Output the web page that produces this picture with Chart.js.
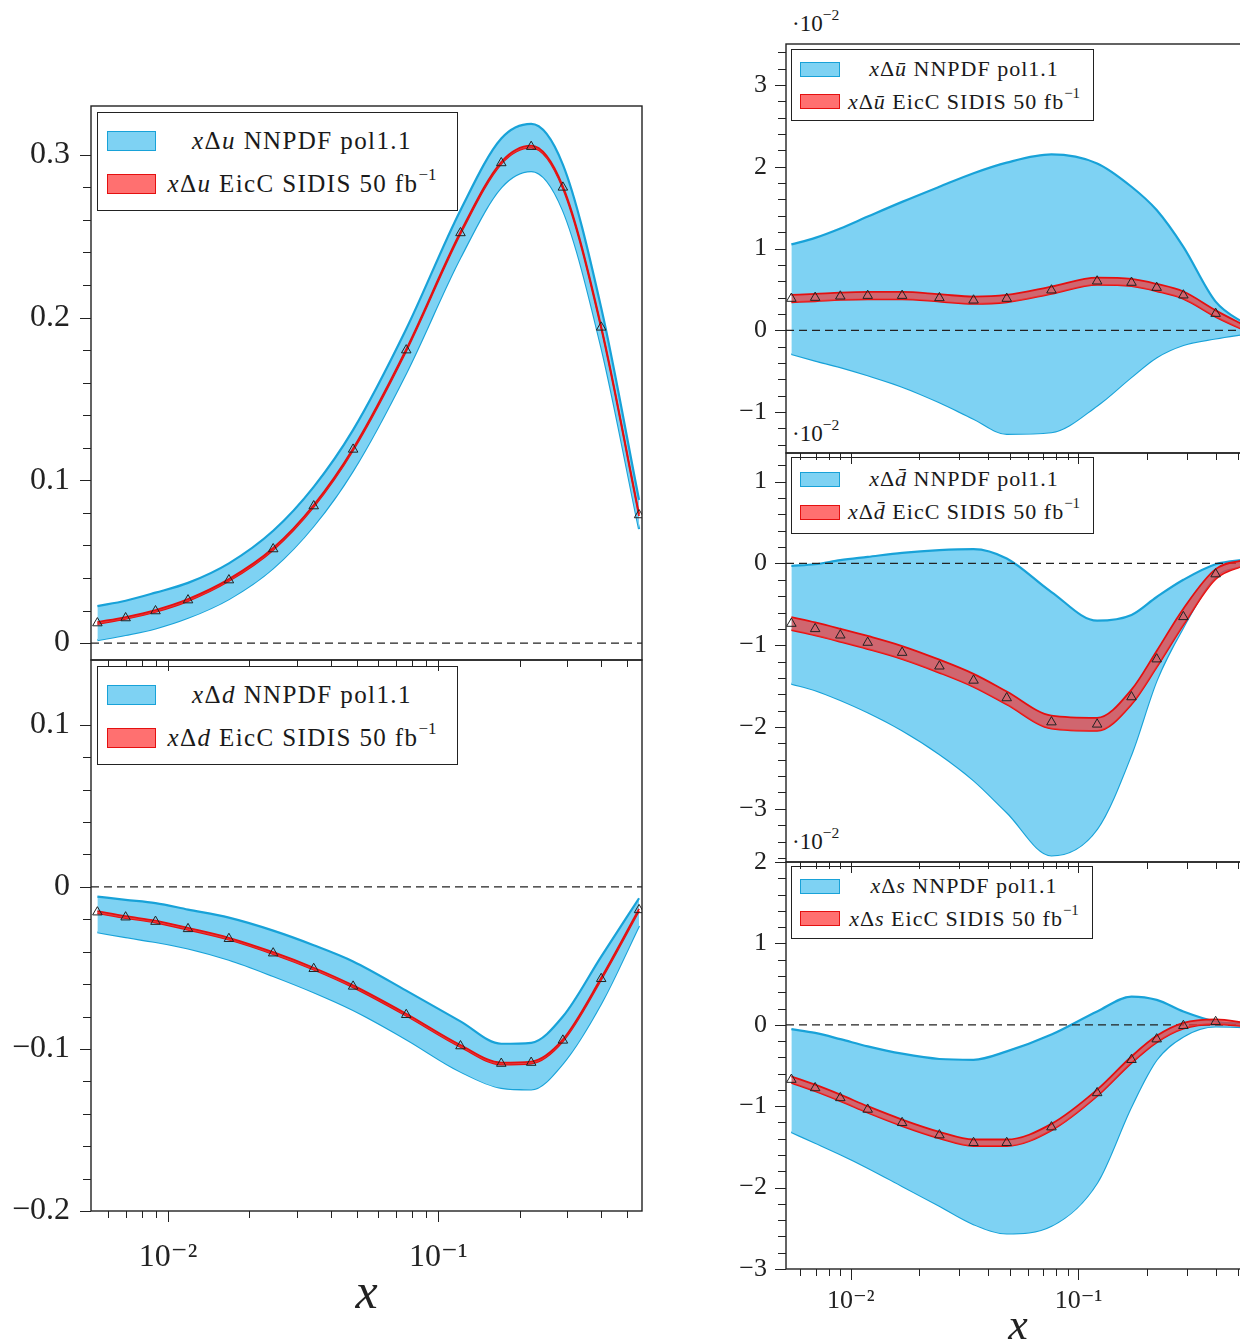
<!DOCTYPE html>
<html>
<head>
<meta charset="utf-8">
<script src="https://cdn.jsdelivr.net/npm/chart.js@4.4.1/dist/chart.umd.min.js"></script>
<style>
html, body { margin: 0; padding: 0; background: #fff; }
body { position: relative; width: 1240px; height: 1344px; overflow: hidden;
       font-family: "Liberation Serif", "DejaVu Serif", serif; color: #1a1a1a; }
canvas { position: absolute; }
.leg { position: absolute; border: 1px solid #222; background: #fff; box-sizing: border-box; }
.sw { position: absolute; box-sizing: border-box; }
.sw.b { background: rgb(126,210,243); border: 1px solid rgb(24,162,216); }
.sw.r { background: rgb(255,112,112); border: 1px solid rgb(228,16,16); }
.lt { position: absolute; white-space: nowrap; text-align: center; }
.big .lt { font-size: 25px; letter-spacing: 1.4px; }
.small .lt { font-size: 22px; letter-spacing: 1px; }
.mul { position: absolute; font-size: 23px; line-height: 23px; white-space: nowrap; }
sup { font-size: 0.68em; line-height: 0; position: relative; top: -0.15em; vertical-align: super; letter-spacing: 0; }
</style>
</head>
<body>

<!-- legends -->
<div class="leg big" style="left:97px;top:112px;width:361px;height:99px">
  <div class="sw b" style="left:9px;top:18px;width:49px;height:20px"></div>
  <div class="lt" style="left:58px;width:292px;top:12px;line-height:32px"><i>x</i>Δ<i>u</i> NNPDF pol1.1</div>
  <div class="sw r" style="left:9px;top:61px;width:49px;height:20px"></div>
  <div class="lt" style="left:58px;width:292px;top:55px;line-height:32px"><i>x</i>Δ<i>u</i> EicC SIDIS 50 fb<sup>−1</sup></div>
</div>
<div class="leg big" style="left:97px;top:666px;width:361px;height:99px">
  <div class="sw b" style="left:9px;top:18px;width:49px;height:20px"></div>
  <div class="lt" style="left:58px;width:292px;top:12px;line-height:32px"><i>x</i>Δ<i>d</i> NNPDF pol1.1</div>
  <div class="sw r" style="left:9px;top:61px;width:49px;height:20px"></div>
  <div class="lt" style="left:58px;width:292px;top:55px;line-height:32px"><i>x</i>Δ<i>d</i> EicC SIDIS 50 fb<sup>−1</sup></div>
</div>
<div class="leg small" style="left:791px;top:49px;width:303px;height:72px">
  <div class="sw b" style="left:8px;top:12px;width:40px;height:15px"></div>
  <div class="lt" style="left:50px;width:244px;top:5px;line-height:28px"><i>x</i>Δ<i>ū</i> NNPDF pol1.1</div>
  <div class="sw r" style="left:8px;top:44px;width:40px;height:15px"></div>
  <div class="lt" style="left:50px;width:244px;top:38px;line-height:28px"><i>x</i>Δ<i>ū</i> EicC SIDIS 50 fb<sup>−1</sup></div>
</div>
<div class="leg small" style="left:791px;top:457px;width:303px;height:77px">
  <div class="sw b" style="left:8px;top:14px;width:40px;height:15px"></div>
  <div class="lt" style="left:50px;width:244px;top:7px;line-height:28px"><i>x</i>Δ<i>d̄</i> NNPDF pol1.1</div>
  <div class="sw r" style="left:8px;top:47px;width:40px;height:15px"></div>
  <div class="lt" style="left:50px;width:244px;top:40px;line-height:28px"><i>x</i>Δ<i>d̄</i> EicC SIDIS 50 fb<sup>−1</sup></div>
</div>
<div class="leg small" style="left:791px;top:866px;width:302px;height:73px">
  <div class="sw b" style="left:8px;top:12px;width:40px;height:15px"></div>
  <div class="lt" style="left:50px;width:244px;top:5px;line-height:28px"><i>x</i>Δ<i>s</i> NNPDF pol1.1</div>
  <div class="sw r" style="left:8px;top:44px;width:40px;height:15px"></div>
  <div class="lt" style="left:50px;width:244px;top:38px;line-height:28px"><i>x</i>Δ<i>s</i> EicC SIDIS 50 fb<sup>−1</sup></div>
</div>

<!-- scale factors of the right panels -->
<div class="mul" style="left:792px;top:12px">·10<sup>−2</sup></div>
<div class="mul" style="left:792px;top:422px">·10<sup>−2</sup></div>
<div class="mul" style="left:792px;top:830px">·10<sup>−2</sup></div>

<script>
// x positions of the EicC pseudo-data points (shared by all panels)
const xPts = [0.00548, 0.00697, 0.00899, 0.01186, 0.0168, 0.0245, 0.0346, 0.0484,
              0.0761, 0.1208, 0.171, 0.2206, 0.289, 0.4005, 0.553];
const X_MIN = 0.00519, X_MAX = 0.567;
const xMajor = [0.01, 0.1];
const xMinor = [0.006, 0.007, 0.008, 0.009, 0.02, 0.03, 0.04, 0.05, 0.06, 0.07, 0.08, 0.09, 0.2, 0.3, 0.4, 0.5];
const xTickLabels = ['10⁻²', '10⁻¹'];

// x Delta u
const uC   = [0.0123, 0.0154, 0.0197, 0.0264, 0.0387, 0.0578, 0.0842, 0.119, 0.180, 0.252, 0.295, 0.305, 0.280, 0.194, 0.0787];
const uErr = [0.0006, 0.0006, 0.0006, 0.0006, 0.0006, 0.0006, 0.0006, 0.0006, 0.0006, 0.0006, 0.0006, 0.0006, 0.0006, 0.0006, 0.0006];
const uHi  = [0.0227, 0.026, 0.031, 0.037, 0.049, 0.069, 0.096, 0.131, 0.193, 0.266, 0.310, 0.319, 0.294, 0.206, 0.088];
const uLo  = [0.0018, 0.005, 0.009, 0.0155, 0.027, 0.046, 0.072, 0.106, 0.166, 0.237, 0.280, 0.290, 0.266, 0.182, 0.070];
const uTicks = [0, 0.1, 0.2, 0.3];
const uTickLabels = ['0', '0.1', '0.2', '0.3'];

// x Delta d
const dC   = [-0.0156, -0.0187, -0.0214, -0.0259, -0.0320, -0.0409, -0.0505, -0.0614, -0.0789, -0.0982, -0.109, -0.1084, -0.0947, -0.0567, -0.0142];
const dErr = [0.0006, 0.0006, 0.0006, 0.0006, 0.0006, 0.0006, 0.0006, 0.0006, 0.0006, 0.0006, 0.0006, 0.0006, 0.0006, 0.0006, 0.0006];
const dHi  = [-0.006, -0.008, -0.010, -0.014, -0.019, -0.027, -0.036, -0.046, -0.064, -0.083, -0.0968, -0.0962, -0.080, -0.043, -0.007];
const dLo  = [-0.028, -0.031, -0.034, -0.038, -0.045, -0.055, -0.065, -0.076, -0.094, -0.114, -0.124, -0.125, -0.109, -0.072, -0.024];
const dTicks = [-0.2, -0.1, 0, 0.1];
const dTickLabels = ['−0.2', '−0.1', '0', '0.1'];

// x Delta ubar (units of 1e-2)
const ubC   = [0.388, 0.40, 0.416, 0.424, 0.424, 0.396, 0.367, 0.388, 0.49, 0.60, 0.584, 0.522, 0.429, 0.204, 0.01];
const ubErr = [0.045, 0.045, 0.045, 0.045, 0.045, 0.045, 0.045, 0.045, 0.045, 0.045, 0.045, 0.045, 0.045, 0.04, 0.03];
const ubHi  = [1.05, 1.13, 1.245, 1.39, 1.57, 1.755, 1.92, 2.05, 2.15, 2.04, 1.755, 1.47, 1.02, 0.35, 0.06];
const ubLo  = [-0.29, -0.37, -0.45, -0.55, -0.69, -0.88, -1.08, -1.265, -1.245, -0.92, -0.57, -0.33, -0.18, -0.10, -0.04];
const ubTicks = [-1, 0, 1, 2, 3];
const ubTickLabels = ['−1', '0', '1', '2', '3'];

// x Delta dbar (units of 1e-2)
const dbC   = [-0.735, -0.80, -0.878, -0.967, -1.09, -1.257, -1.43, -1.645, -1.94, -1.967, -1.633, -1.17, -0.653, -0.13, 0.02];
const dbErr = [0.08, 0.08, 0.08, 0.08, 0.08, 0.08, 0.08, 0.08, 0.08, 0.08, 0.09, 0.1, 0.1, 0.06, 0.03];
const dbHi  = [-0.03, -0.01, 0.04, 0.08, 0.13, 0.163, 0.175, 0.06, -0.35, -0.70, -0.63, -0.41, -0.20, -0.01, 0.05];
const dbLo  = [-1.47, -1.55, -1.67, -1.82, -2.04, -2.33, -2.65, -3.04, -3.57, -3.245, -2.33, -1.43, -0.78, -0.16, -0.02];
const dbTicks = [-3, -2, -1, 0, 1];
const dbTickLabels = ['−3', '−2', '−1', '0', '1'];

// x Delta s (units of 1e-2)
const sC   = [-0.673, -0.776, -0.898, -1.04, -1.204, -1.355, -1.449, -1.449, -1.257, -0.837, -0.429, -0.176, -0.012, 0.037, 0.0];
const sErr = [0.04, 0.04, 0.04, 0.04, 0.04, 0.04, 0.04, 0.04, 0.04, 0.04, 0.04, 0.04, 0.035, 0.03, 0.02];
const sHi  = [-0.053, -0.10, -0.176, -0.265, -0.355, -0.42, -0.43, -0.327, -0.12, 0.163, 0.347, 0.306, 0.163, 0.04, 0.01];
const sLo  = [-1.318, -1.449, -1.59, -1.755, -1.98, -2.224, -2.449, -2.563, -2.469, -1.939, -1.0, -0.429, -0.143, -0.02, -0.03];
const sTicks = [-3, -2, -1, 0, 1, 2];
const sTickLabels = ['−3', '−2', '−1', '0', '1', '2'];

const FONT = '"Liberation Serif", "DejaVu Serif", serif';
const BLUE_FILL = 'rgb(126,210,243)';
const BLUE_EDGE = 'rgb(24,162,216)';
const RED_FILL = 'rgba(240,60,60,0.72)';
const RED_EDGE = 'rgb(228,16,16)';
const INK = '#222';

function pts(ys) { return xPts.map((x, i) => ({ x: x, y: ys[i] })); }
function shifted(ys, es, sign) { return ys.map((y, i) => y + sign * es[i]); }

// frame + tick marks (pgfplots style: outward ticks, log minor ticks)
const axesFrame = {
  id: 'axesFrame',
  afterDatasetsDraw(chart, args, o) {
    const { ctx, chartArea: a } = chart;
    const xs = chart.scales.x, ys = chart.scales.y;
    ctx.save();
    ctx.strokeStyle = INK;
    ctx.lineWidth = 1;
    ctx.beginPath();
    const k0 = Math.ceil(o.minor[0] / o.step - 1e-6), k1 = Math.floor(o.minor[1] / o.step + 1e-6);
    for (let k = k0; k <= k1; k++) {
      const v = k * o.step;
      const major = o.major.some(m => Math.abs(m - v) < o.step / 10);
      const py = Math.round(ys.getPixelForValue(v)) + 0.5;
      ctx.moveTo(a.left, py);
      ctx.lineTo(a.left - (major ? 11 : 8), py);
    }
    xMinor.concat(xMajor).forEach(v => {
      const major = xMajor.includes(v);
      const px = Math.round(xs.getPixelForValue(v)) + 0.5;
      ctx.moveTo(px, a.bottom);
      ctx.lineTo(px, a.bottom + (major ? 11 : 7));
    });
    ctx.stroke();
    ctx.lineWidth = 1.4;
    ctx.strokeRect(a.left, a.top, a.right - a.left, a.bottom - a.top);
    ctx.restore();
  }
};

function makePanel(p) {
  const padT = 24, padR = 10;
  const padB = p.xTitle ? 0 : 24;
  const xH = p.xTitle ? p.xH : 0;
  const left = p.plot.l - p.yW, top = p.plot.t - padT;
  const cv = document.createElement('canvas');
  cv.width = p.plot.r + padR - left;
  cv.height = padT + (p.plot.b - p.plot.t) + xH + padB;
  cv.style.left = left + 'px';
  cv.style.top = top + 'px';
  document.body.appendChild(cv);

  const band = { pointRadius: 0, cubicInterpolationMode: 'monotone' };
  new Chart(cv, {
    type: 'line',
    data: {
      datasets: [
        Object.assign({ data: pts(p.lo), borderColor: BLUE_EDGE, borderWidth: 2.2, fill: false, order: 6 }, band),
        Object.assign({ data: pts(p.hi), borderColor: BLUE_EDGE, borderWidth: 2.2, backgroundColor: BLUE_FILL, fill: '-1', order: 5 }, band),
        { data: [{ x: X_MIN, y: 0 }, { x: X_MAX, y: 0 }], borderColor: INK, borderWidth: 1.2,
          borderDash: [8, 5], pointRadius: 0, fill: false, order: 4 },
        Object.assign({ data: pts(shifted(p.c, p.err, -1)), borderColor: RED_EDGE, borderWidth: 1.8, fill: false, order: 3 }, band),
        Object.assign({ data: pts(shifted(p.c, p.err, 1)), borderColor: RED_EDGE, borderWidth: 1.8, backgroundColor: RED_FILL, fill: '-1', order: 2 }, band),
        { data: pts(p.c), showLine: false, pointStyle: 'triangle', pointRadius: 5.5,
          pointBorderColor: INK, pointBorderWidth: 1, pointBackgroundColor: 'rgba(0,0,0,0)', order: 1 }
      ]
    },
    options: {
      responsive: false,
      animation: false,
      events: [],
      layout: { padding: { top: padT, bottom: padB, left: 0, right: padR } },
      plugins: {
        legend: { display: false },
        tooltip: { enabled: false },
        axesFrame: { major: p.ticks, step: p.step, minor: p.minor }
      },
      scales: {
        x: {
          type: 'logarithmic', min: X_MIN, max: X_MAX,
          grid: { display: false, drawTicks: false },
          border: { display: false },
          afterBuildTicks: s => { s.ticks = xMajor.map(v => ({ value: v, major: true })); },
          afterFit: s => { s.height = xH; s.paddingLeft = 0; s.paddingRight = 0; },
          ticks: {
            display: !!p.xTitle, autoSkip: false, maxRotation: 0, minRotation: 0,
            padding: p.xTickPad || 0, color: INK,
            font: { family: FONT, size: p.font },
            callback: (v, i) => xTickLabels[i]
          },
          title: {
            display: !!p.xTitle, text: 'x', color: INK,
            font: { family: FONT, size: p.titleSize || 40, style: 'italic' },
            padding: { top: 0, bottom: p.titlePad || 0 }
          }
        },
        y: {
          min: p.yRange[0], max: p.yRange[1],
          grid: { display: false, drawTicks: false },
          border: { display: false },
          afterBuildTicks: s => { s.ticks = p.ticks.map(v => ({ value: v })); },
          afterFit: s => { s.width = p.yW; s.paddingTop = 0; s.paddingBottom = 0; },
          ticks: {
            padding: p.yPad, color: INK,
            font: { family: FONT, size: p.font },
            callback: (v, i) => p.labels[i]
          }
        }
      }
    },
    plugins: [axesFrame]
  });
}

// left column
makePanel({ plot: { l: 91, r: 642, t: 106, b: 660 }, yW: 91, yPad: 21, font: 32,
  yRange: [-0.0104, 0.33], ticks: uTicks, labels: uTickLabels, step: 0.02, minor: [0, 0.3],
  c: uC, err: uErr, hi: uHi, lo: uLo });
makePanel({ plot: { l: 91, r: 642, t: 660, b: 1211 }, yW: 91, yPad: 21, font: 32,
  yRange: [-0.2, 0.14], ticks: dTicks, labels: dTickLabels, step: 0.02, minor: [-0.2, 0.1],
  c: dC, err: dErr, hi: dHi, lo: dLo,
  xTitle: true, xH: 140, xTickPad: 27, titleSize: 50, titlePad: 26 });

// right column
makePanel({ plot: { l: 786, r: 1250, t: 44, b: 453 }, yW: 56, yPad: 19, font: 26,
  yRange: [-1.5, 3.5], ticks: ubTicks, labels: ubTickLabels, step: 0.2, minor: [-1.5, 3.5],
  c: ubC, err: ubErr, hi: ubHi, lo: ubLo });
makePanel({ plot: { l: 786, r: 1250, t: 453, b: 862 }, yW: 56, yPad: 19, font: 26,
  yRange: [-3.65, 1.35], ticks: dbTicks, labels: dbTickLabels, step: 0.2, minor: [-3.65, 1.35],
  c: dbC, err: dbErr, hi: dbHi, lo: dbLo });
makePanel({ plot: { l: 786, r: 1250, t: 862, b: 1269 }, yW: 56, yPad: 19, font: 26,
  yRange: [-3, 2], ticks: sTicks, labels: sTickLabels, step: 0.2, minor: [-3, 2],
  c: sC, err: sErr, hi: sHi, lo: sLo,
  xTitle: true, xH: 100, xTickPad: 17, titleSize: 44, titlePad: 15 });
</script>
</body>
</html>
